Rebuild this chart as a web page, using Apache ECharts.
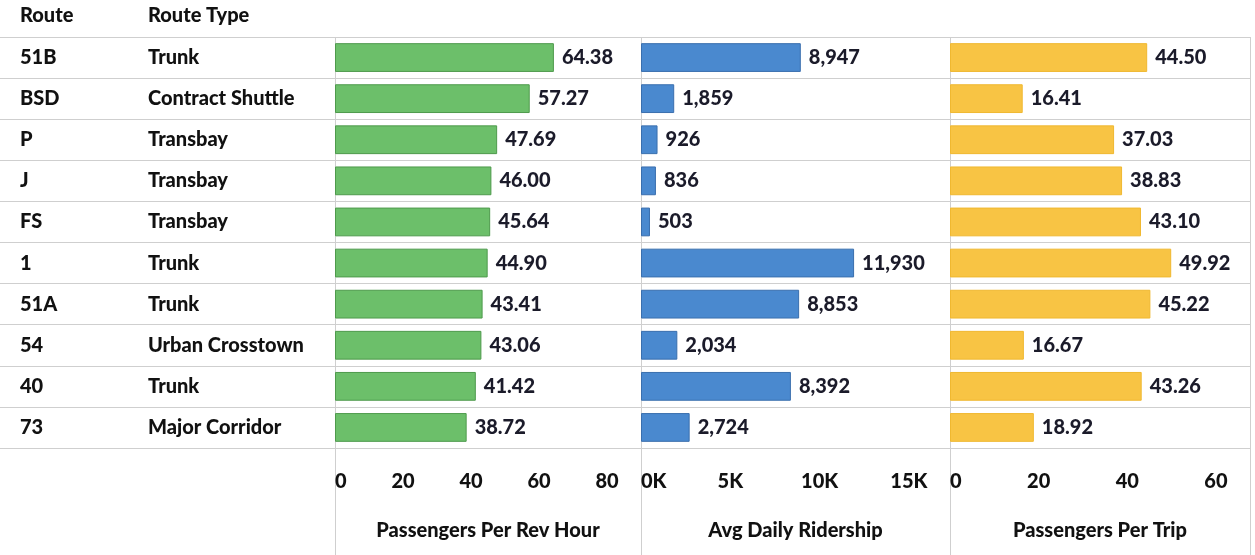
<!DOCTYPE html>
<html>
<head>
<meta charset="utf-8">
<script src="https://cdn.jsdelivr.net/npm/echarts@6/dist/echarts.min.js"></script>
<style>
  html, body { margin: 0; padding: 0; background: #fff; }
  #chart { width: 1255px; height: 555px; }
</style>
</head>
<body>
<div id="chart"></div>
<script>
const routes = ['51B', 'BSD', 'P', 'J', 'FS', '1', '51A', '54', '40', '73'];
const routeTypes = ['Trunk', 'Contract Shuttle', 'Transbay', 'Transbay', 'Transbay', 'Trunk', 'Trunk', 'Urban Crosstown', 'Trunk', 'Major Corridor'];
const perRevHour = [64.38, 57.27, 47.69, 46.00, 45.64, 44.90, 43.41, 43.06, 41.42, 38.72];
const dailyRidership = [8947, 1859, 926, 836, 503, 11930, 8853, 2034, 8392, 2724];
const perTrip = [44.50, 16.41, 37.03, 38.83, 43.10, 49.92, 45.22, 16.67, 43.26, 18.92];

const font = 'Lato';
const weight = 900;
const size = 20;
const lineColor = '#cfcfcf';
const gridTop = 37, gridHeight = 411;

const chart = echarts.init(document.getElementById('chart'));

const catAxis = (gridIndex) => ({
  type: 'category',
  gridIndex,
  data: routes,
  inverse: true,
  axisLine: { show: false },
  axisTick: { show: false },
  axisLabel: { show: false },
  splitLine: { show: true, lineStyle: { color: lineColor, width: 1 } }
});

const valAxis = (gridIndex, max, interval, name, fmt) => ({
  type: 'value',
  gridIndex,
  min: 0,
  max,
  interval,
  name,
  nameLocation: 'middle',
  nameGap: 73,
  nameTextStyle: { fontFamily: font, fontWeight: weight, fontSize: size, color: '#111' },
  axisLine: { show: false },
  axisTick: { show: false },
  splitLine: { show: false },
  axisLabel: {
    margin: 24,
    fontFamily: font, fontWeight: weight, fontSize: size, color: '#111',
    alignMinLabel: 'left',
    showMaxLabel: false,
    formatter: fmt
  }
});

const barSeries = (idx, data, color, border, fmt) => ({
  type: 'bar',
  xAxisIndex: idx,
  yAxisIndex: idx,
  data,
  barWidth: '70%',
  itemStyle: { color, borderColor: border, borderWidth: 1 },
  label: {
    show: true,
    position: 'right',
    distance: 8,
    fontFamily: font, fontWeight: weight, fontSize: size, color: '#1b1b2a',
    formatter: (p) => fmt(p.value)
  },
  silent: true
});

const vline = (x) => ({
  type: 'line',
  shape: { x1: x, y1: gridTop, x2: x, y2: 555 },
  style: { stroke: lineColor, lineWidth: 1 }
});

chart.setOption({
  animation: false,
  grid: [
    { left: 0, width: 335, top: gridTop, height: gridHeight },
    { left: 335, width: 306, top: gridTop, height: gridHeight },
    { left: 641, width: 309, top: gridTop, height: gridHeight },
    { left: 950, width: 300, top: gridTop, height: gridHeight }
  ],
  xAxis: [
    { type: 'value', gridIndex: 0, show: false },
    valAxis(1, 90, 20, 'Passengers Per Rev Hour', (v) => v),
    valAxis(2, 17300, 5000, 'Avg Daily Ridership', (v) => (v / 1000) + 'K'),
    valAxis(3, 67.7, 20, 'Passengers Per Trip', (v) => v)
  ],
  yAxis: [
    Object.assign(catAxis(0), {
      axisLabel: {
        show: true,
        inside: true,
        margin: 20,
        formatter: (v, i) => `{a|${v}}{b|${routeTypes[i]}}`,
        rich: {
          a: { width: 128, fontFamily: font, fontWeight: weight, fontSize: size, color: '#111' },
          b: { fontFamily: font, fontWeight: weight, fontSize: size, color: '#111' }
        }
      }
    }),
    catAxis(1),
    catAxis(2),
    catAxis(3)
  ],
  series: [
    barSeries(1, perRevHour, '#6cbf6a', '#4e9a4c', (v) => v.toFixed(2)),
    barSeries(2, dailyRidership, '#4a89cf', '#3a6fae', (v) => v.toLocaleString('en-US')),
    barSeries(3, perTrip, '#f8c444', '#f0b830', (v) => v.toFixed(2))
  ],
  graphic: [
    { type: 'text', left: 20, top: 6, style: { text: 'Route', font: `${weight} ${size}px ${font}`, fill: '#111' } },
    { type: 'text', left: 148, top: 6, style: { text: 'Route Type', font: `${weight} ${size}px ${font}`, fill: '#111' } },
    vline(335.5), vline(641.5), vline(950.5), vline(1250.5)
  ]
});
</script>
</body>
</html>
